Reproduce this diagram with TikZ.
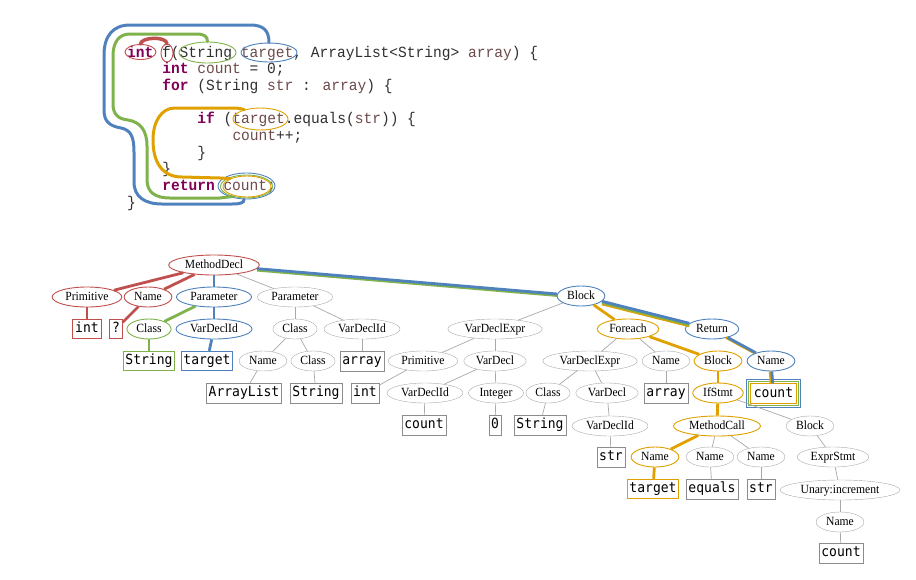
\documentclass[tikz,border=0pt]{standalone}
\usepackage{fontspec}
\setmainfont{Liberation Serif}
\newfontfamily\astfont[FakeStretch=0.93]{Liberation Serif}
\newfontfamily\codefont[FakeStretch=0.94]{Liberation Mono}
\newfontfamily\boxfont[FakeStretch=0.93]{DejaVu Sans Mono}
\usetikzlibrary{shapes.geometric}

\definecolor{astred}{HTML}{C0504D}
\definecolor{astblue}{HTML}{4F81BD}
\definecolor{astgreen}{HTML}{7FB24A}
\definecolor{astorange}{HTML}{E0A100}
\definecolor{astgray}{HTML}{A8A8A8}
\definecolor{boxgray}{HTML}{8C8C8C}
\definecolor{codecol}{HTML}{303030}
\definecolor{kwcol}{HTML}{7F0055}
\definecolor{varcol}{HTML}{6E4A4A}

\newcommand\kw[1]{{\color{kwcol}\bfseries #1}}
\newcommand\vr[1]{{\color{varcol}#1}}

\tikzset{
  ast/.style={ellipse, draw=astgray, font=\astfont\fontsize{12.5}{13}\selectfont,
    inner xsep=3pt, inner ysep=0pt, minimum height=20pt, text height=8.5pt, text depth=2.5pt},
  tok/.style={rectangle, draw=boxgray, font=\boxfont\fontsize{14}{15}\selectfont,
    inner xsep=2.3pt, inner ysep=0pt, minimum height=19.5pt, text height=10pt, text depth=2.8pt},
  astedge/.style={draw=astgray, line width=0.7pt},
  pathedge/.style={line width=2.8pt},
  ring/.style={ellipse, draw, line width=0.9pt, inner sep=0pt},
  hull/.style={line width=3pt, line cap=round},
  codeline/.style={anchor=base west, inner sep=0pt, text=codecol,
    font=\codefont\fontsize{15.5}{16}\selectfont},
}

\begin{document}
\begin{tikzpicture}[x=1pt,y=-1pt]
  \useasboundingbox (0,0) rectangle (916,579);

  % source code
  \node[codeline] (l1) at (127,57) {\kw{int} f(String \vr{target}, ArrayList<String> \vr{array}) \{};
  \node[codeline] (l2) at (162.1,73.7) {\kw{int} \vr{count} = 0;};
  \node[codeline] (l3) at (162.1,90.4) {\kw{for} (String \vr{str} : \vr{array}) \{};
  \node[codeline] (l5) at (197.2,123.8) {\kw{if} (\vr{target}.equals(\vr{str})) \{};
  \node[codeline] (l6) at (232.3,140.5) {\vr{count}++;};
  \node[codeline] (l7) at (197.2,157.2) {\}};
  \node[codeline] (l8) at (162.1,173.9) {\}};
  \node[codeline] (l9) at (162.1,190.6) {\kw{return} \vr{count};};
  \node[codeline] (l10) at (127,207.3) {\}};

  % rings round the tokens
  \node[ring, astred, minimum width=31pt, minimum height=15pt] (c_int) at (140.5,52) {};
  \node[ring, astred, minimum width=12pt, minimum height=18pt] (c_f) at (167,53) {};
  \node[ring, astgreen, minimum width=57pt, minimum height=21pt] (c_str) at (207.5,52.5) {};
  \node[ring, astblue, minimum width=56pt, minimum height=19pt] (c_tgt) at (269,52.5) {};
  \node[ring, astorange, minimum width=55pt, minimum height=22pt] (c_tgt2) at (260.5,119) {};
  \node[ring, astblue, minimum width=57pt, minimum height=26pt] (c_cntb) at (246.5,186) {};
  \node[ring, astgreen, minimum width=52pt, minimum height=23pt] (c_cntg) at (246.5,186.5) {};
  \node[ring, astorange, minimum width=48pt, minimum height=21pt] (c_cnto) at (247,186.5) {};

  % paths through the code
  \draw[hull, astred, line width=3.5pt] (c_int.north) .. controls (141,37) and (166,36) .. (c_f.north);
  \draw[hull, astblue] (c_tgt.north) .. controls (269,30) and (263,25) .. (250,25) -- (130,25)
    .. controls (113,25) and (104,36) .. (104,55) -- (104,110)
    .. controls (104,122) and (110,126) .. (121,128) .. controls (131,130) and (134,137) .. (134,152)
    -- (134,182) .. controls (134,197) and (145,204) .. (162,204) -- (232,204)
    .. controls (240,204) and (244,203) .. (c_cntb.260);
  \draw[hull, astgreen] (c_str.north) .. controls (207.5,36) and (204,34) .. (196,34) -- (130,34)
    .. controls (119,34) and (113,42) .. (113,56) -- (113,104)
    .. controls (113,114) and (118,119) .. (128,120) .. controls (140,122) and (147,130) .. (147,146)
    -- (147,180) .. controls (147,192) and (155,198) .. (170,198) -- (220,198)
    .. controls (226,198) .. (c_cntg.215);
  \draw[hull, astorange] (c_tgt2.150) .. controls (238,108) .. (228,108) -- (175,108)
    .. controls (161,108) and (153,122) .. (153,140) .. controls (153,162) and (162,177) .. (182,177)
    -- (220,178) .. controls (225,178) .. (c_cnto.155);

  % tree
  \node[ast, draw=astred, line width=0.9pt] (md) at (214,265) {MethodDecl};
  \node[ast, draw=astred, line width=0.9pt] (prim1) at (87,297) {Primitive};
  \node[ast, draw=astred, line width=0.9pt] (name1) at (148,297) {Name};
  \node[ast, draw=astblue, line width=0.9pt] (par1) at (214,297) {Parameter};
  \node[ast] (par2) at (295,297) {Parameter};
  \node[ast, draw=astblue, line width=0.9pt] (blk1) at (581,296) {Block};
  \node[tok, draw=astred, line width=0.9pt] (b_int1) at (87,329) {int};
  \node[tok, draw=astred, line width=0.9pt] (b_q) at (116,329) {?};
  \node[ast, draw=astgreen, line width=0.9pt] (cls1) at (149,329) {Class};
  \node[ast, draw=astblue, line width=0.9pt] (vdi1) at (214,329) {VarDeclId};
  \node[ast] (cls2) at (295,329) {Class};
  \node[ast] (vdi2) at (362,329) {VarDeclId};
  \node[ast] (vde1) at (495,329) {VarDeclExpr};
  \node[ast, draw=astorange, line width=0.9pt] (fe) at (628,329) {Foreach};
  \node[ast, draw=astblue, line width=0.9pt] (ret) at (712,329) {Return};
  \node[tok, draw=astgreen, line width=0.9pt] (b_str1) at (149,361) {String};
  \node[tok, draw=astblue, line width=0.9pt] (b_tgt1) at (207,361) {target};
  \node[ast] (name2) at (263,361) {Name};
  \node[ast] (cls3) at (313,361) {Class};
  \node[tok] (b_arr1) at (362,361) {array};
  \node[ast] (prim2) at (423,361) {Primitive};
  \node[ast] (vd1) at (495,361) {VarDecl};
  \node[ast] (vde2) at (590,361) {VarDeclExpr};
  \node[ast] (name3) at (666,361) {Name};
  \node[ast, draw=astorange, line width=0.9pt] (blk2) at (718,361) {Block};
  \node[ast, draw=astblue, line width=0.9pt] (name4) at (771,361) {Name};
  \node[tok] (b_al) at (244,393) {ArrayList};
  \node[tok] (b_str2) at (316,393) {String};
  \node[tok] (b_int2) at (365,393) {int};
  \node[ast] (vdi3) at (425,393) {VarDeclId};
  \node[ast] (intg) at (496,393) {Integer};
  \node[ast] (cls4) at (548,393) {Class};
  \node[ast] (vd2) at (607,393) {VarDecl};
  \node[tok] (b_arr2) at (666,393) {array};
  \node[ast, draw=astorange, line width=0.9pt] (ifs) at (718,393) {IfStmt};
  \node[tok, draw=astorange, line width=0.9pt, inner xsep=3pt] (b_cnt1) at (773.5,393.5) {count};
  \node[tok] (b_cnt2) at (424,425) {count};
  \node[tok] (b_zero) at (495,425) {0};
  \node[tok] (b_str3) at (540,425) {String};
  \node[ast] (vdi4) at (610,426) {VarDeclId};
  \node[ast, draw=astorange, line width=0.9pt] (mc) at (717,426) {MethodCall};
  \node[ast] (blk3) at (810,426) {Block};
  \node[tok] (b_str4) at (611,457) {str};
  \node[ast, draw=astorange, line width=0.9pt] (name5) at (655,457) {Name};
  \node[ast] (name6) at (710,457) {Name};
  \node[ast] (name7) at (761,457) {Name};
  \node[ast] (es) at (833,457) {ExprStmt};
  \node[tok, draw=astorange, line width=0.9pt] (b_tgt2) at (653,489) {target};
  \node[tok] (b_eq) at (712,489) {equals};
  \node[tok] (b_str5) at (761,489) {str};
  \node[ast] (un) at (840,490) {Unary:increment};
  \node[ast] (name8) at (840,522) {Name};
  \node[tok] (b_cnt3) at (841,553) {count};

  % frames round the shared leaf
  \draw[astgreen, line width=0.9pt] ([shift={(-2pt,-2pt)}]b_cnt1.south west) rectangle ([shift={(2pt,2pt)}]b_cnt1.north east);
  \draw[astblue, line width=0.9pt] ([shift={(-4pt,-4pt)}]b_cnt1.south west) rectangle ([shift={(4pt,4pt)}]b_cnt1.north east);

  % plain edges
  \foreach \a/\b in {md/par2, par2/cls2, par2/vdi2, cls2/name2, cls2/cls3, name2/b_al, cls3/b_str2,
      vdi2/b_arr1, blk1/vde1, vde1/prim2, vde1/vd1, prim2/b_int2, vd1/vdi3, vd1/intg, vdi3/b_cnt2,
      intg/b_zero, fe/vde2, fe/name3, vde2/cls4, vde2/vd2, cls4/b_str3, vd2/vdi4, vdi4/b_str4,
      name3/b_arr2, ifs/blk3, mc/name6, mc/name7, name6/b_eq, name7/b_str5, blk3/es, es/un,
      un/name8, name8/b_cnt3}
    \draw[astedge] (\a) -- (\b);

  % highlighted edges
  \foreach \a/\b in {md/prim1, prim1/b_int1, md/name1, name1/b_q}
    \draw[pathedge, astred] (\a) -- (\b);
  \foreach \a/\b in {md/par1, par1/vdi1, vdi1/b_tgt1}
    \draw[pathedge, astblue] (\a) -- (\b);
  \foreach \a/\b in {par1/cls1, cls1/b_str1}
    \draw[pathedge, astgreen] (\a) -- (\b);
  \foreach \a/\b in {blk1/fe, fe/blk2, blk2/ifs, ifs/mc, mc/name5, name5/b_tgt2}
    \draw[pathedge, astorange] (\a) -- (\b);
  \draw[pathedge, astgreen, transform canvas={yshift=-1.5pt}] (md) -- (blk1);
  \draw[pathedge, astblue] (md) -- (blk1);
  \draw[pathedge, astorange, transform canvas={yshift=-2.6pt}] (blk1) -- (ret);
  \draw[pathedge, astgreen, transform canvas={yshift=-1.3pt}] (blk1) -- (ret);
  \draw[pathedge, astblue] (blk1) -- (ret);
  \draw[pathedge, astorange, transform canvas={xshift=-1.6pt}] (ret) -- (name4);
  \draw[pathedge, astblue] (ret) -- (name4);
  \draw[pathedge, astorange, transform canvas={xshift=-1.6pt}] (name4) -- (b_cnt1);
  \draw[pathedge, astblue] (name4) -- (b_cnt1);
\end{tikzpicture}
\end{document}
